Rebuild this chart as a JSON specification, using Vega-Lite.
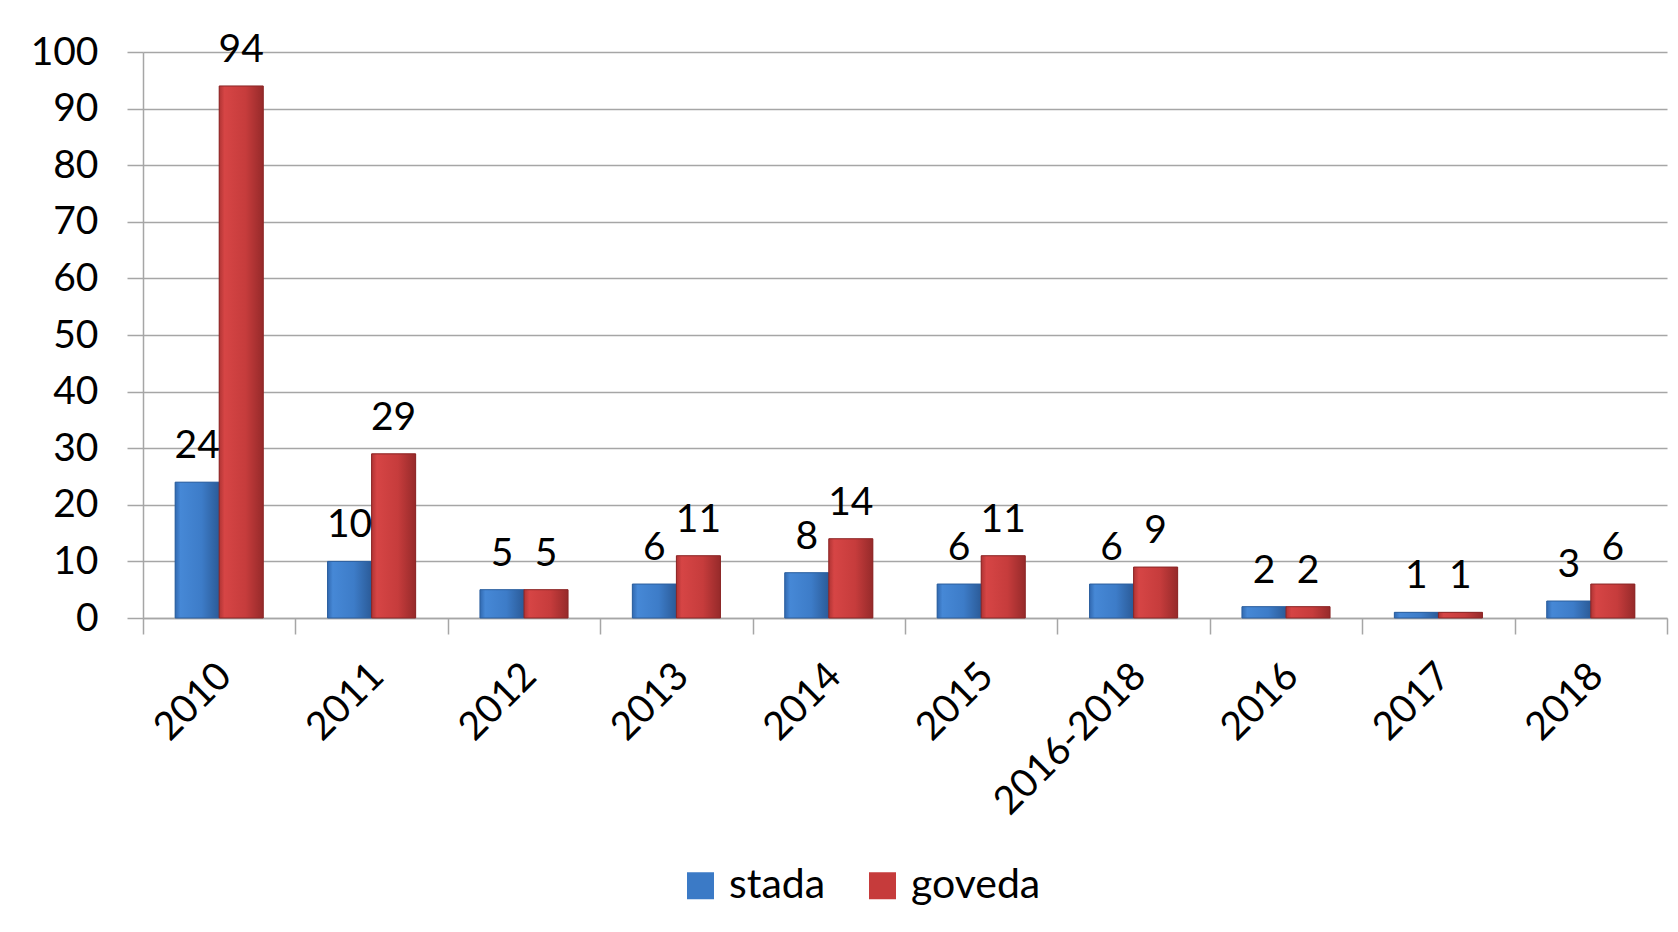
{
  "$schema": "https://vega.github.io/schema/vega-lite/v6.json",
  "width": 1524,
  "height": 566,
  "autosize": "none",
  "padding": {"left": 143, "top": 52, "right": 11, "bottom": 314},
  "background": "white",
  "config": {
    "font": "Lato",
    "view": {"stroke": null}
  },
  "data": {
    "values": [
      {"godina": "2010", "serija": "stada", "broj": 24},
      {"godina": "2010", "serija": "goveda", "broj": 94},
      {"godina": "2011", "serija": "stada", "broj": 10},
      {"godina": "2011", "serija": "goveda", "broj": 29},
      {"godina": "2012", "serija": "stada", "broj": 5},
      {"godina": "2012", "serija": "goveda", "broj": 5},
      {"godina": "2013", "serija": "stada", "broj": 6},
      {"godina": "2013", "serija": "goveda", "broj": 11},
      {"godina": "2014", "serija": "stada", "broj": 8},
      {"godina": "2014", "serija": "goveda", "broj": 14},
      {"godina": "2015", "serija": "stada", "broj": 6},
      {"godina": "2015", "serija": "goveda", "broj": 11},
      {"godina": "2016-2018", "serija": "stada", "broj": 6},
      {"godina": "2016-2018", "serija": "goveda", "broj": 9},
      {"godina": "2016", "serija": "stada", "broj": 2},
      {"godina": "2016", "serija": "goveda", "broj": 2},
      {"godina": "2017", "serija": "stada", "broj": 1},
      {"godina": "2017", "serija": "goveda", "broj": 1},
      {"godina": "2018", "serija": "stada", "broj": 3},
      {"godina": "2018", "serija": "goveda", "broj": 6}
    ]
  },
  "encoding": {
    "x": {
      "field": "godina",
      "type": "nominal",
      "sort": null,
      "scale": {"paddingInner": 0, "paddingOuter": 0},
      "axis": {
        "title": null,
        "tickBand": "extent",
        "labelAngle": -45,
        "labelFontSize": 39,
        "labelColor": "black",
        "labelPadding": 22,
        "labelOffset": -8,
        "labelLimit": 400,
        "tickSize": 16,
        "tickColor": "#a6a6a6",
        "tickWidth": 1.5,
        "domainColor": "#a6a6a6",
        "domainWidth": 1.5
      }
    },
    "xOffset": {
      "field": "serija",
      "type": "nominal",
      "sort": ["stada", "goveda"],
      "scale": {"paddingInner": 0, "paddingOuter": 0.73}
    },
    "y": {
      "field": "broj",
      "type": "quantitative",
      "scale": {"domain": [0, 100], "nice": false},
      "axis": {
        "title": null,
        "values": [0, 10, 20, 30, 40, 50, 60, 70, 80, 90, 100],
        "labelFontSize": 39,
        "labelColor": "black",
        "labelPadding": 29,
        "tickSize": 16,
        "tickColor": "#a6a6a6",
        "tickWidth": 1.5,
        "domainColor": "#a6a6a6",
        "domainWidth": 1.5,
        "gridColor": "#a6a6a6",
        "gridWidth": 1.5
      }
    }
  },
  "layer": [
    {
      "mark": {"type": "bar"},
      "encoding": {
        "color": {
          "field": "serija",
          "type": "nominal",
          "sort": ["stada", "goveda"],
          "scale": {"domain": ["stada", "goveda"], "range": ["#3b7ac6", "#c63b3b"]},
          "legend": {
            "title": null,
            "orient": "none",
            "legendX": 537,
            "legendY": 813,
            "direction": "horizontal",
            "symbolType": "square",
            "symbolSize": 729,
            "symbolStrokeWidth": 0,
            "labelFontSize": 41,
            "labelColor": "black",
            "labelOffset": 8,
            "columnPadding": 36
          }
        }
      }
    },
    {
      "mark": {"type": "bar", "strokeWidth": 1},
      "encoding": {
        "fill": {
          "condition": {
            "test": "datum.serija === 'stada'",
            "value": {
              "gradient": "linear", "x1": 0, "y1": 0, "x2": 1, "y2": 0,
              "stops": [
                {"offset": 0, "color": "#3169b0"},
                {"offset": 0.12, "color": "#4688d6"},
                {"offset": 0.6, "color": "#3d7cc8"},
                {"offset": 1, "color": "#2b5b98"}
              ]
            }
          },
          "value": {
            "gradient": "linear", "x1": 0, "y1": 0, "x2": 1, "y2": 0,
            "stops": [
              {"offset": 0, "color": "#b03434"},
              {"offset": 0.12, "color": "#d64545"},
              {"offset": 0.6, "color": "#c63c3c"},
              {"offset": 1, "color": "#962a2a"}
            ]
          }
        },
        "stroke": {
          "condition": {"test": "datum.serija === 'stada'", "value": "#2c5f9e"},
          "value": "#8a2626"
        }
      }
    },
    {
      "mark": {"type": "text", "fontSize": 39, "color": "black", "baseline": "alphabetic", "dy": -24},
      "encoding": {
        "text": {"field": "broj", "type": "quantitative"}
      }
    }
  ]
}
